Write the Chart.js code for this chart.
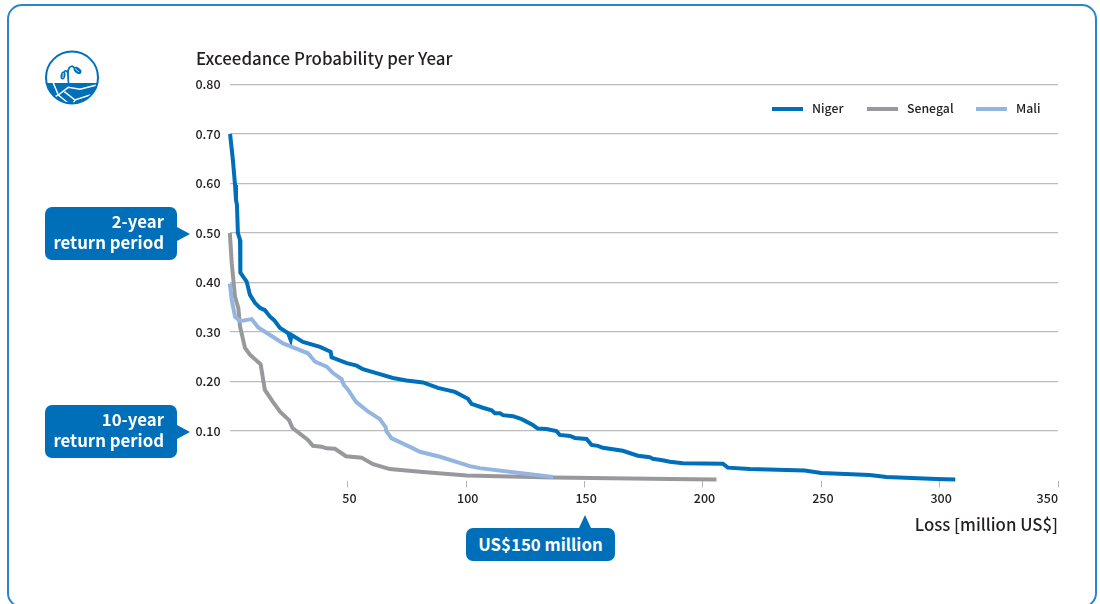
<!DOCTYPE html>
<html>
<head>
<meta charset="utf-8">
<title>Exceedance Probability per Year</title>
<script src="https://cdn.jsdelivr.net/npm/chart.js@4"></script>
<style>
  html, body { margin: 0; padding: 0; background: #fff; overflow: hidden; }
  body { width: 1100px; height: 604px; position: relative; font-family: "Noto Sans CJK JP", "Noto Sans", sans-serif; color: #231f20; }
  #panel { position: absolute; left: 7px; top: 4px; width: 1086px; height: 600px; border: 2px solid #2a86c8; border-radius: 15px; }
  #seekWrap { position: absolute; left: 0; top: 0; width: 1100px; height: 604px; }
  #chartTitle { position: absolute; left: 196px; top: 47px; font-size: 16.9px; font-weight: 500; line-height: 22px; white-space: nowrap; }
  .callout { position: absolute; background: #006fba; color: #fff; border-radius: 7px; font-size: 16.8px; font-weight: 700; line-height: 21px; box-sizing: border-box; }
  .callout.side { left: 45px; width: 132px; height: 53px; padding: 4px 13px 0 0; text-align: right; }
  .callout.side::after { content: ""; position: absolute; left: 132px; top: 20px; border-left: 13px solid #006fba; border-top: 7px solid transparent; border-bottom: 7px solid transparent; }
  .callout.bottom { left: 466px; top: 528px; width: 149px; height: 33px; line-height: 32px; text-align: center; }
  .callout.bottom::after { content: ""; position: absolute; left: 113px; top: -13px; border-bottom: 13px solid #006fba; border-left: 6.5px solid transparent; border-right: 6.5px solid transparent; }
  .legendLine { position: absolute; top: 107px; width: 31px; height: 4px; }
  .legendText { position: absolute; top: 98px; font-size: 12.3px; font-weight: 500; line-height: 20px; white-space: nowrap; }
  svg { position: absolute; left: 44px; top: 50px; }
</style>
</head>
<body>
<div id="panel"></div>
<div id="seekWrap"><canvas id="lossChart" width="1100" height="604"></canvas></div>
<div id="chartTitle">Exceedance Probability per Year</div>
<svg width="56" height="56" viewBox="0 0 56 56">
  <defs><clipPath id="disc"><circle cx="28" cy="27.5" r="26"/></clipPath></defs>
  <rect x="0" y="33" width="56" height="23" fill="#006fba" clip-path="url(#disc)"/>
  <g fill="none" stroke="#fff" stroke-width="1.5" clip-path="url(#disc)">
    <path d="M9.3 33 L14.3 45 L5 50"/>
    <path d="M14.3 45 L24.3 37.3 L36 39.3 L52.7 35"/>
    <path d="M20.3 41.7 L31 50 L46 45 L52 47"/>
    <path d="M31 50 L28 56 M14.3 45 L24 53"/>
  </g>
  <circle cx="28" cy="27.5" r="26" fill="none" stroke="#006fba" stroke-width="2"/>
  <path d="M24.5 33 C24 26 23 19 26 17 C28 15.5 29.5 16.5 30.5 18 M23.8 23 C23 20.5 21 20 20 22" fill="none" stroke="#006fba" stroke-width="1.7"/>
  <ellipse cx="33.5" cy="20.5" rx="4.4" ry="2.8" transform="rotate(38 33.5 20.5)" fill="#006fba"/>
  <ellipse cx="19" cy="25.5" rx="2.4" ry="4" transform="rotate(12 19 25.5)" fill="#006fba"/>
  <path d="M31 18.5 L35 22 M19.3 23 L18.8 28" stroke="#fff" stroke-width="0.8"/>
</svg>
<div class="callout side" style="top:207px">2-year<br>return period</div>
<div class="callout side" style="top:405px">10-year<br>return period</div>
<div class="callout bottom">US$150 million</div>
<div id="legendBox"></div>
<script>
const nigerX = [0.2, 1.4, 2.3, 2.7, 3.1, 3.5, 4.4, 4.4, 4.7, 7.2, 8.6, 10.7, 12.8, 14.9, 17.1, 18.8, 21.3, 24.7, 25.8, 26.2, 31, 38.2, 42.7, 43.1, 49.5, 53.7, 56.3, 63.5, 69, 74.8, 81.7, 88, 95.2, 100.7, 102.2, 107, 110.7, 112.1, 114.2, 115.5, 119.7, 123.4, 128.1, 130.2, 133.9, 138.1, 139.5, 143.8, 145.9, 150.8, 152.9, 155.6, 157.7, 166.1, 172.5, 177.5, 178.8, 182.9, 186, 191.5, 208.4, 210.5, 219.8, 243, 250, 270.4, 277.5, 298.6, 306.6];
const nigerY = [0.700, 0.647, 0.597, 0.567, 0.557, 0.500, 0.486, 0.460, 0.420, 0.402, 0.375, 0.359, 0.349, 0.344, 0.331, 0.324, 0.308, 0.298, 0.284, 0.294, 0.280, 0.270, 0.260, 0.249, 0.237, 0.232, 0.225, 0.215, 0.207, 0.202, 0.198, 0.187, 0.179, 0.165, 0.155, 0.147, 0.142, 0.136, 0.136, 0.132, 0.130, 0.124, 0.112, 0.105, 0.104, 0.100, 0.092, 0.090, 0.086, 0.084, 0.072, 0.070, 0.066, 0.060, 0.050, 0.047, 0.044, 0.041, 0.038, 0.035, 0.034, 0.026, 0.023, 0.020, 0.015, 0.011, 0.007, 0.003, 0.002];
const senegalX = [0.1, 0.9, 2.3, 3.7, 4.4, 6.5, 8.6, 13.1, 14.9, 18.3, 21.3, 25.1, 26.6, 33.1, 35.2, 38.9, 41, 44.5, 49.2, 55.8, 60.6, 66.3, 67.7, 81.7, 100.1, 136.6, 186, 205.7];
const senegalY = [0.500, 0.439, 0.371, 0.348, 0.311, 0.268, 0.254, 0.235, 0.183, 0.159, 0.139, 0.122, 0.106, 0.082, 0.070, 0.068, 0.065, 0.064, 0.049, 0.046, 0.033, 0.025, 0.023, 0.017, 0.010, 0.006, 0.003, 0.002];
const maliX = [0.1, 0.9, 2.3, 4.4, 9.3, 12.1, 17.1, 22.6, 26.8, 33.1, 36.1, 41, 43.7, 47.3, 48.3, 50.1, 53.4, 58.6, 63.5, 65.9, 66.3, 68.5, 76.2, 80.4, 88.9, 101.5, 105.7, 122.6, 136.7];
const maliY = [0.398, 0.365, 0.331, 0.322, 0.326, 0.309, 0.294, 0.277, 0.269, 0.257, 0.240, 0.230, 0.217, 0.205, 0.193, 0.183, 0.159, 0.139, 0.124, 0.108, 0.099, 0.085, 0.068, 0.058, 0.048, 0.029, 0.025, 0.015, 0.007];

const xTicks = [0, 50, 100, 150, 200, 250, 300, 350];
const yTicks = [0, 0.1, 0.2, 0.3, 0.4, 0.5, 0.6, 0.7, 0.8];

const seriesNames = ["Niger", "Senegal", "Mali"];
const seriesColors = ["#006fba", "#98999c", "#94b5e0"];

function toPoints(xs, ys) {
  return xs.map((x, i) => ({ x: x, y: ys[i] }));
}

const seriesPoints = [toPoints(nigerX, nigerY), toPoints(senegalX, senegalY), toPoints(maliX, maliY)];

// legend sits inside the plot with uneven gaps, so it is plain html
const legendLeft = [772, 867, 976];
const legendBox = document.getElementById("legendBox");
seriesNames.forEach((name, i) => {
  const line = document.createElement("div");
  line.className = "legendLine";
  line.style.left = legendLeft[i] + "px";
  line.style.background = seriesColors[i];
  const label = document.createElement("div");
  label.className = "legendText";
  label.style.left = legendLeft[i] + 40 + "px";
  label.textContent = name;
  legendBox.append(line, label);
});

const tickFont = { family: '"Noto Sans CJK JP", "Noto Sans", sans-serif', size: 12.5, weight: "500" };

// the 350 label ends at the plot edge instead of being centred on its tick
const lastTickLabel = {
  id: "lastTickLabel",
  afterDraw(chart) {
    const scale = chart.scales.x;
    const ctx = chart.ctx;
    ctx.save();
    ctx.font = `500 12.5px ${tickFont.family}`;
    ctx.fillStyle = "#231f20";
    ctx.textAlign = "right";
    ctx.textBaseline = "middle";
    ctx.fillText(String(xTicks[xTicks.length - 1]), scale.getPixelForValue(xTicks[xTicks.length - 1]), 498);
    ctx.restore();
  },
};

new Chart(document.getElementById("lossChart").getContext("2d"), {
  type: "scatter",
  data: {
    datasets: seriesNames.map((name, i) => ({
      label: name,
      data: seriesPoints[i],
      showLine: true,
      borderColor: seriesColors[i],
      backgroundColor: seriesColors[i],
      borderWidth: 4,
      pointRadius: 0,
      tension: 0,
      clip: false,
      order: seriesNames.length - i,
    })),
  },
  plugins: [lastTickLabel],
  options: {
    responsive: false,
    animation: false,
    events: [],
    layout: { padding: { left: 0, right: 42, top: 84.5, bottom: 69 } },
    plugins: { legend: { display: false }, tooltip: { enabled: false } },
    scales: {
      x: {
        type: "linear",
        min: 0,
        max: 350,
        afterBuildTicks(scale) {
          scale.ticks = xTicks.map((v) => ({ value: v }));
        },
        afterFit(scale) {
          scale.height = 54.5;
          scale.paddingLeft = 0;
          scale.paddingRight = 0;
        },
        border: { display: false },
        grid: {
          drawOnChartArea: false,
          drawTicks: true,
          tickLength: 7,
          tickColor: (c) => (c.tick && c.tick.value === 0 ? "rgba(0,0,0,0)" : "#b5b5b5"),
        },
        ticks: {
          color: "#231f20",
          font: tickFont,
          padding: 3,
          labelOffset: 1.5,
          maxRotation: 0,
          autoSkip: false,
          callback: (v) => (v === 0 || v === 350 ? "" : String(v)),
        },
        title: {
          display: true,
          text: "Loss [million US$]",
          align: "end",
          color: "#231f20",
          font: { family: tickFont.family, size: 16.8, weight: "500" },
          padding: 0,
        },
      },
      y: {
        type: "linear",
        min: 0,
        max: 0.8,
        afterBuildTicks(scale) {
          scale.ticks = yTicks.map((v) => ({ value: v }));
        },
        afterFit(scale) {
          scale.width = 229.6;
          scale.paddingTop = 0;
          scale.paddingBottom = 0;
        },
        border: { display: false },
        grid: {
          drawTicks: false,
          lineWidth: 1.3,
          color: (c) => (c.tick && c.tick.value === 0 ? "rgba(0,0,0,0)" : "#bcbcbc"),
        },
        ticks: {
          color: "#231f20",
          font: tickFont,
          padding: 9,
          autoSkip: false,
          callback: (v) => (v === 0 ? "" : v.toFixed(2)),
        },
      },
    },
  },
});
</script>
</body>
</html>
